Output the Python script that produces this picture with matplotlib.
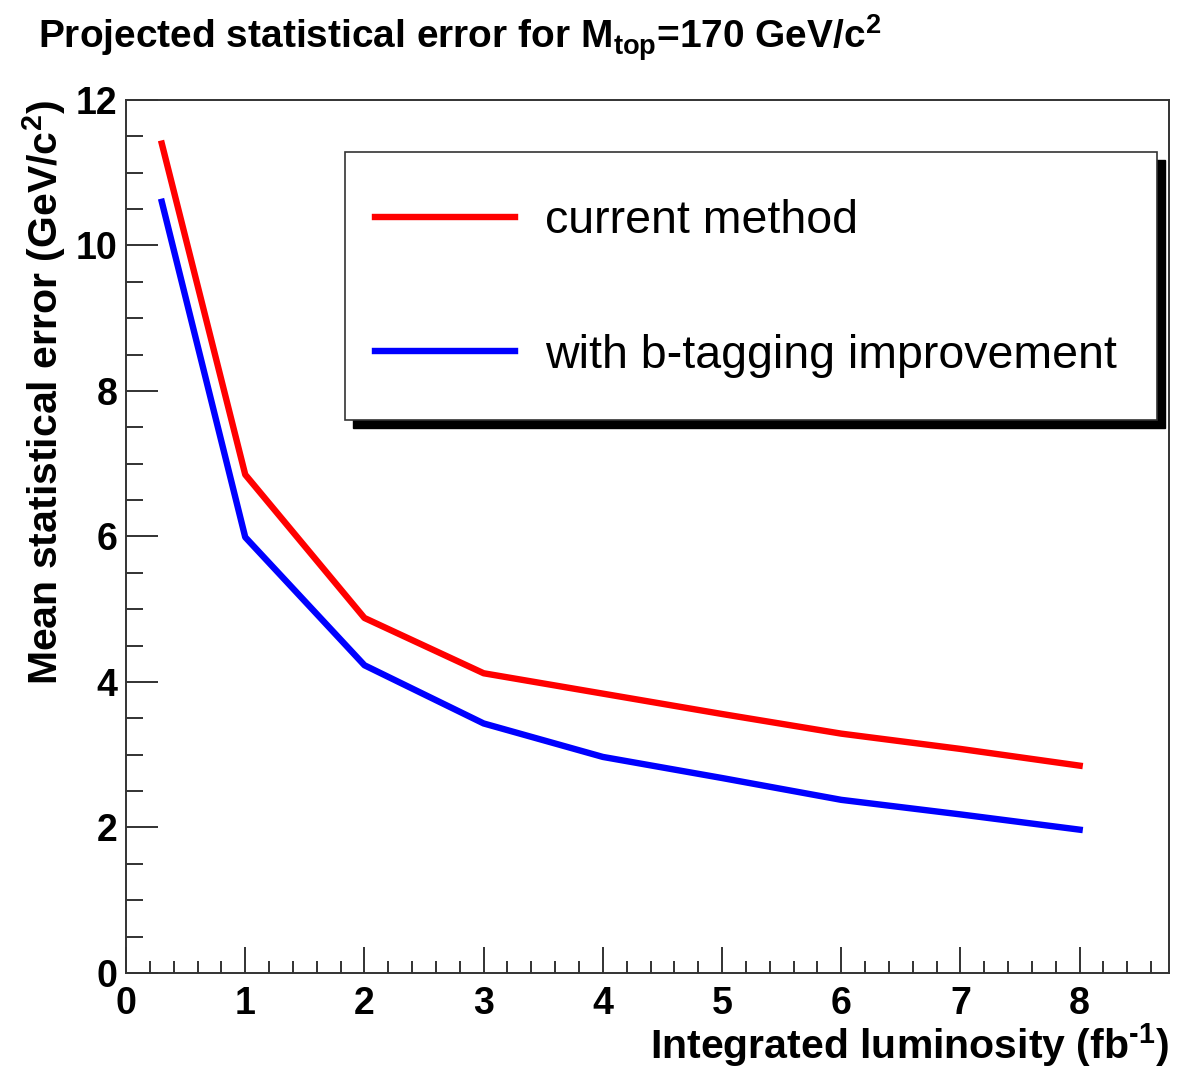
import numpy as np
import matplotlib
matplotlib.use("Agg")
import matplotlib.pyplot as plt
from matplotlib.patches import Rectangle
from matplotlib.ticker import MultipleLocator

plt.rcParams["font.family"] = ["Liberation Sans", "DejaVu Sans"]
plt.rcParams["mathtext.fontset"] = "custom"
plt.rcParams["mathtext.rm"] = "Liberation Sans:bold"
plt.rcParams["mathtext.bf"] = "Liberation Sans:bold"
plt.rcParams["mathtext.it"] = "Liberation Sans:bold"
plt.rcParams["mathtext.default"] = "bf"

# integrated luminosity (fb^-1)
lumi = [0.3, 1, 2, 3, 4, 5, 6, 7, 8]
# mean statistical error (GeV/c^2)
err_current = [11.4, 6.85, 4.88, 4.12, 3.84, 3.56, 3.29, 3.08, 2.85]
err_btag = [10.6, 5.99, 4.23, 3.43, 2.97, 2.68, 2.38, 2.18, 1.97]

fig = plt.figure(figsize=(11.78, 10.69), dpi=100)
ax = fig.add_axes([0.107, 0.0898, 0.8854, 0.8167])

ax.plot(lumi, err_current, color="#ff0000", lw=4.6, label="current method")
ax.plot(lumi, err_btag, color="#0000ff", lw=4.6, label="with b-tagging improvement")

ax.set_xlim(0, 8.75)
ax.set_ylim(0, 12)
ax.xaxis.set_major_locator(MultipleLocator(1))
ax.xaxis.set_minor_locator(MultipleLocator(0.2))
ax.yaxis.set_major_locator(MultipleLocator(2))
ax.yaxis.set_minor_locator(MultipleLocator(0.5))

ax.tick_params(axis="both", which="both", direction="in", color="#222222",
               width=1.3, top=False, right=False, labelsize=27)
ax.tick_params(axis="x", which="major", length=19, pad=9)
ax.tick_params(axis="x", which="minor", length=9)
ax.tick_params(axis="y", which="major", length=23, pad=6)
ax.tick_params(axis="y", which="minor", length=12)
for lab in ax.get_xticklabels() + ax.get_yticklabels():
    lab.set_fontweight("bold")
for sp in ax.spines.values():
    sp.set_color("#333333")
    sp.set_linewidth(1.4)

ax.set_xlabel(r"Integrated luminosity (fb$^{\text{-1}}$)", fontsize=29.5,
              fontweight="bold", loc="right", labelpad=0)
ax.set_ylabel(r"Mean statistical error (GeV/c$^{\mathbf{2}}$)", fontsize=29.5,
              fontweight="bold", loc="top", labelpad=6)

fig.text(0.032, 0.955, r"Projected statistical error for M$_{\mathbf{top}}$=170 GeV/c$^{\mathbf{2}}$",
         fontsize=28, fontweight="bold", ha="left", va="baseline")

# legend box with ROOT-style shadow
bx0, by0, bw, bh = 0.21, 0.6334, 0.7785, 0.307
ax.add_patch(Rectangle((bx0 + 0.0077, by0 - 0.0092), bw, bh, transform=ax.transAxes,
                       facecolor="black", edgecolor="black", zorder=5))
ax.add_patch(Rectangle((bx0, by0), bw, bh, transform=ax.transAxes,
                       facecolor="white", edgecolor="#333333", lw=1.2, zorder=6))
leg = ax.legend(loc="upper left", bbox_to_anchor=(0.2388, 0.886), frameon=False,
                fontsize=33.5, handlelength=3.0, handletextpad=0.65,
                labelspacing=1.94, borderpad=0, borderaxespad=0)
leg.set_zorder(7)

fig.savefig("out.png", dpi=100)
